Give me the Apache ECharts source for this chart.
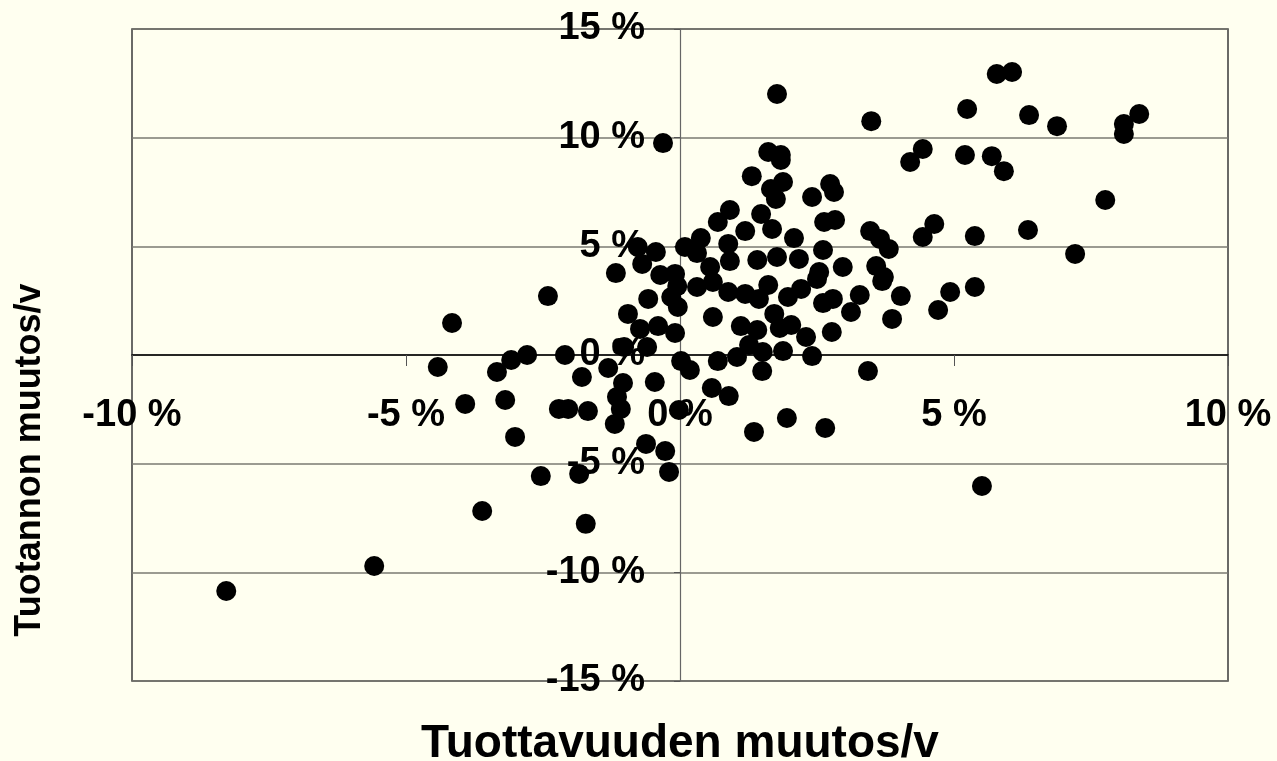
<!DOCTYPE html>
<html>
<head>
<meta charset="utf-8">
<title>Tuottavuus ja tuotanto</title>
<script src="https://cdn.jsdelivr.net/npm/echarts@6/dist/echarts.min.js"></script>
<style>
    html, body {
        margin: 0;
        padding: 0;
        background: #FFFFF0;
    }
    #scatterChart {
        width: 1277px;
        height: 761px;
    }
</style>
</head>
<body>
<div id="scatterChart"></div>
<script>
// tuottavuuden muutos/v (%), x-akseli
const tuottavuus = [
    5.78, 6.06, 1.77, 3.49, 5.24, 6.37, 6.88, 8.38, 8.10, 8.10,
    -0.31, 1.61, 1.84, 1.84, 4.43, 4.20, 5.20, 5.69, 5.91, 1.31,
    1.88, 1.66, 1.75, 2.74, 2.81, 2.41,
    7.76, 0.91, 0.69, 1.48, 1.19, 1.68, 2.63, 2.83, 3.47, 3.65,
    3.81, 4.64, 4.43, 5.38, 6.35, 7.21, 2.08, 0.38, 0.09, 0.31,
    0.88, -0.77, -0.44, 2.61,
    0.91, 1.41, 1.77, 2.17, 2.54, 2.97, 3.58, 3.72, -0.09, 0.55,
    0.60, 0.31, -0.69, -1.17, -0.36, -0.05, -0.58, -0.16, -0.04, 0.88,
    1.19, 1.44, 1.61, 1.97, 2.21, 2.50, 2.61, 2.79, 3.28, 3.12,
    3.69, 4.03, 3.87, 4.93, 5.38, 4.71,
    -0.95, -0.73, -0.40, -0.09, 0.60, 1.11, 1.41, 1.72, 1.82, 2.03,
    2.30, 2.77, -1.02, -0.60, 1.26, 1.51, 1.88, 2.41, -4.16, -2.41,
    0.02, 0.18, 0.69, 1.04, 1.50, 3.43, 0.58, 0.89, -4.42, -3.34,
    -3.08, -2.79, -2.10, -1.79, -1.31, -1.04, -0.46, -1.15,
    -0.02, 1.35, 1.95, 2.65, 5.51, -3.92, -3.19, -2.21, -2.04, -1.68,
    -1.08, -1.19, -3.01, -0.62, -0.27, -0.20, -1.84, -2.54, -1.72, -3.61,
    -5.58, -8.28
];

// tuotannon muutos/v (%), y-akseli
const tuotanto = [
    12.93, 13.02, 12.01, 10.76, 11.32, 11.04, 10.53, 11.09, 10.63, 10.17,
    9.75, 9.34, 9.20, 8.97, 9.48, 8.88, 9.20, 9.15, 8.46, 8.23,
    7.96, 7.64, 7.18, 7.87, 7.50, 7.27,
    7.13, 6.67, 6.12, 6.49, 5.70, 5.80, 6.12, 6.21, 5.70, 5.34,
    4.88, 6.03, 5.43, 5.47, 5.75, 4.65, 5.38, 5.38, 4.97, 4.69,
    5.11, 4.97, 4.74, 4.83,
    4.32, 4.37, 4.51, 4.42, 3.82, 4.05, 4.09, 3.59, 3.73, 4.05,
    3.36, 3.13, 4.19, 3.77, 3.68, 3.17, 2.58, 2.67, 2.21, 2.90,
    2.81, 2.58, 3.22, 2.67, 3.04, 3.50, 2.39, 2.58, 2.76, 1.98,
    3.40, 2.71, 1.66, 2.90, 3.13, 2.07,
    1.89, 1.20, 1.33, 1.01, 1.75, 1.33, 1.15, 1.89, 1.24, 1.38,
    0.83, 1.06, 0.37, 0.37, 0.46, 0.14, 0.18, -0.05, 1.47, 2.71,
    -0.28, -0.69, -0.28, -0.09, -0.74, -0.74, -1.52, -1.89, -0.55, -0.78,
    -0.23, 0.00, 0.00, -1.01, -0.60, -1.29, -1.24, -1.93,
    -2.53, -3.54, -2.90, -3.36, -6.03, -2.25, -2.07, -2.48, -2.48, -2.58,
    -2.48, -3.17, -3.77, -4.09, -4.42, -5.38, -5.47, -5.57, -7.77, -7.18,
    -9.71, -10.86
];

const xTicks = { min: -10, max: 10, step: 5 };
const yTicks = { min: -15, max: 15, step: 5 };

const labelFont = 'Liberation Sans, Arial, sans-serif';

// plot area in pixels, axes are moved onto the zero lines with offset
const plot = { left: 132, right: 1228, top: 29, bottom: 681 };
const zeroX = (plot.left + plot.right) / 2;
const zeroY = (plot.top + plot.bottom) / 2;

const chartDom = document.getElementById('scatterChart');
const chart = echarts.init(chartDom);

const points = tuottavuus.map((x, i) => [x, tuotanto[i]]);

const option = {
    backgroundColor: '#FFFFF0',
    animation: false,
    grid: {
        left: plot.left,
        right: 1277 - plot.right,
        top: plot.top,
        bottom: 761 - plot.bottom,
        show: true,
        backgroundColor: '#FFFFF0',
        borderColor: '#3a3a3a',
        borderWidth: 1.5
    },
    xAxis: {
        type: 'value',
        position: 'bottom',
        offset: -(plot.bottom - zeroY),
        min: xTicks.min,
        max: xTicks.max,
        interval: xTicks.step,
        axisLine: {
            onZero: false,
            lineStyle: { color: '#000', width: 1.5 }
        },
        axisTick: {
            show: true,
            inside: false,
            length: 11,
            lineStyle: { color: '#555', width: 1 }
        },
        axisLabel: {
            formatter: '{value} %',
            color: '#000',
            fontFamily: labelFont,
            fontWeight: 'bold',
            fontSize: 38,
            margin: 42
        },
        splitLine: { show: false }
    },
    yAxis: {
        type: 'value',
        position: 'left',
        offset: -(zeroX - plot.left),
        min: yTicks.min,
        max: yTicks.max,
        interval: yTicks.step,
        axisLine: {
            onZero: false,
            lineStyle: { color: '#666', width: 1.2 }
        },
        axisTick: {
            show: true,
            inside: false,
            length: 6,
            lineStyle: { color: '#555', width: 1 }
        },
        axisLabel: {
            formatter: '{value} %',
            color: '#000',
            fontFamily: labelFont,
            fontWeight: 'bold',
            fontSize: 38,
            margin: 35
        },
        splitLine: {
            show: true,
            lineStyle: { color: '#7a7a72', width: 1.5 }
        }
    },
    series: [
        {
            type: 'scatter',
            data: points,
            symbol: 'circle',
            symbolSize: 20,
            itemStyle: { color: '#000', opacity: 1 }
        }
    ],
    graphic: [
        {
            type: 'text',
            x: zeroX,
            y: 744,
            style: {
                text: 'Tuottavuuden muutos/v',
                fill: '#000',
                font: 'bold 46px ' + labelFont,
                textAlign: 'center',
                textVerticalAlign: 'middle'
            }
        },
        {
            type: 'text',
            x: 30,
            y: 460,
            rotation: Math.PI / 2,
            style: {
                text: 'Tuotannon muutos/v',
                fill: '#000',
                font: 'bold 36px ' + labelFont,
                textAlign: 'center',
                textVerticalAlign: 'middle'
            }
        }
    ]
};

chart.setOption(option);

window.addEventListener('resize', () => {
    chart.resize();
});
</script>
</body>
</html>
